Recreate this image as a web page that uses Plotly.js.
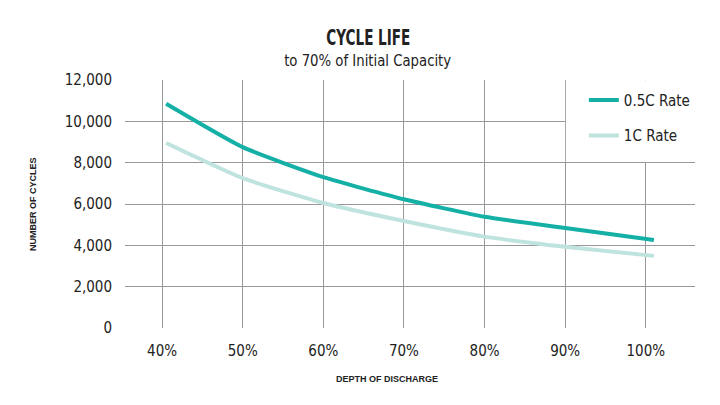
<!DOCTYPE html>
<html>
<head>
<meta charset="utf-8">
<script src="https://cdn.plot.ly/plotly-3.0.1.min.js"></script>
<style>html,body{margin:0;padding:0;background:#fff;}#chart{width:720px;height:405px;}</style>
</head>
<body>
<div id="chart"></div>
<script>
var depth = [40.5, 50, 60, 70, 80, 90, 101];
var rate05C = [10850, 8750, 7300, 6230, 5380, 4840, 4260];
var rate1C = [8950, 7250, 6050, 5180, 4420, 3930, 3490];
var xTickVals = [40, 50, 60, 70, 80, 90, 100];
var xTickText = ['40%', '50%', '60%', '70%', '80%', '90%', '100%'];
var yTickVals = [0, 2000, 4000, 6000, 8000, 10000, 12000];

var FONT = '"DejaVu Sans Condensed", "Liberation Sans", sans-serif';

var traces = [
  {x: depth, y: rate05C, name: '0.5C Rate', mode: 'lines', legendgroup: 'a',
   line: {color: '#14b0a6', width: 4, shape: 'spline', smoothing: 0.5}},
  {x: depth, y: rate1C, name: '1C Rate', mode: 'lines', legendgroup: 'b',
   line: {color: '#bfe3df', width: 4, shape: 'spline', smoothing: 0.5}}
];

var layout = {
  width: 720, height: 405,
  margin: {l: 125, r: 25, t: 80, b: 77},
  paper_bgcolor: '#fff', plot_bgcolor: '#fff',
  font: {family: FONT, color: '#222', size: 15},
  showlegend: true,
  legend: {x: 0.805, y: 0.985, xanchor: 'left', yanchor: 'top', bgcolor: 'rgba(0,0,0,0)',
           font: {family: FONT, size: 15, color: '#222'}, tracegroupgap: 13, traceorder: 'grouped'},
  xaxis: {range: [35.4, 106.1], tickvals: xTickVals, ticktext: xTickText,
          showgrid: true, gridcolor: '#999', gridwidth: 1, zeroline: false, showline: false,
          ticks: '', ticklabelstandoff: 12, tickfont: {family: FONT, size: 15, color: '#222'}, fixedrange: true},
  yaxis: {range: [0, 12000], tickvals: yTickVals, tickformat: ',',
          showgrid: true, gridcolor: '#999', gridwidth: 1, zeroline: false, showline: false,
          ticks: '', ticklabelstandoff: 12, tickfont: {family: FONT, size: 15, color: '#222'}, fixedrange: true},
  shapes: [
    {type: 'rect', xref: 'x', yref: 'y', x0: 90.08, x1: 107, y0: 8030, y1: 11990,
     fillcolor: '#fff', line: {width: 0}, layer: 'between'}
  ],
  annotations: [
    {text: '<b>CYCLE LIFE</b>', xref: 'paper', yref: 'paper', x: (368 - 125) / 570, y: 1 + (80 - 38) / 248,
     xanchor: 'center', yanchor: 'middle', showarrow: false, font: {family: FONT, size: 22, color: '#222'}},
    {text: 'to 70% of Initial Capacity', xref: 'paper', yref: 'paper', x: (368 - 125) / 570, y: 1 + (80 - 61) / 248,
     xanchor: 'center', yanchor: 'middle', showarrow: false, font: {family: FONT, size: 16, color: '#222'}},
    {text: '<b>DEPTH OF DISCHARGE</b>', xref: 'paper', yref: 'paper', x: (387 - 125) / 570, y: -(379 - 328) / 248,
     xanchor: 'center', yanchor: 'middle', showarrow: false, font: {family: '"Liberation Sans", Arial, sans-serif', size: 9, color: '#222'}},
    {text: '<b>NUMBER OF CYCLES</b>', xref: 'paper', yref: 'paper', x: -(125 - 33) / 570, y: (328 - 204) / 248,
     xanchor: 'center', yanchor: 'middle', textangle: -90, showarrow: false, font: {family: '"Liberation Sans", Arial, sans-serif', size: 9, color: '#222'}}
  ]
};

Plotly.newPlot('chart', traces, layout, {displayModeBar: false, staticPlot: true}).then(function (gd) {
  var texts = gd.querySelectorAll('.annotation-text');
  var widths = [84, 167];
  for (var i = 0; i < widths.length && i < texts.length; i++) {
    texts[i].setAttribute('textLength', widths[i]);
    texts[i].setAttribute('lengthAdjust', 'spacingAndGlyphs');
  }
});
</script>
</body>
</html>
